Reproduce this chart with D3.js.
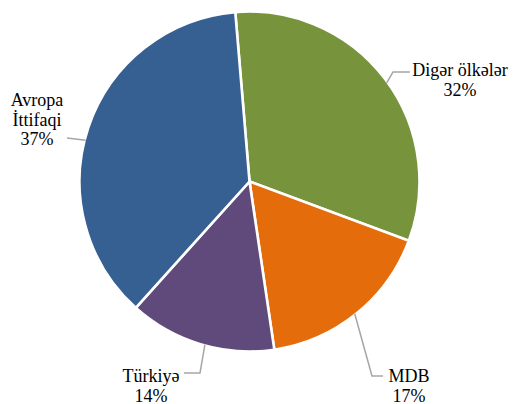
<!DOCTYPE html>
<html>
<head>
<meta charset="utf-8">
<script src="https://cdn.jsdelivr.net/npm/d3@7"></script>
<style>
  html, body { margin: 0; padding: 0; background: #fff; }
  svg { display: block; }
  text.lbl { font-family: "Liberation Serif", Tinos, "Times New Roman", "DejaVu Serif", serif; font-size: 18px; fill: #000; }
</style>
</head>
<body>
<svg id="chart" width="513" height="404"></svg>
<script>
// Export shares by destination (%)
const categories = ["Digər ölkələr", "MDB", "Türkiyə", "Avropa İttifaqi"];
const shares = [32, 17, 14, 37];
const labelLines = [["Digər ölkələr"], ["MDB"], ["Türkiyə"], ["Avropa", "İttifaqi"]];
const colors = ["#77933c", "#e46c0a", "#604a7b", "#376092"];

const cx = 249.5, cy = 181.5, R = 170;
const startDeg = -4.8;

const svg = d3.select("#chart");
const g = svg.append("g").attr("transform", `translate(${cx},${cy})`);

const data = categories.map((c, i) => ({ name: c, value: shares[i], lines: labelLines[i], color: colors[i] }));

const pie = d3.pie()
  .value(d => d.value)
  .sort(null)
  .startAngle(startDeg * Math.PI / 180)
  .endAngle((startDeg + 360) * Math.PI / 180);

const arc = d3.arc().innerRadius(0).outerRadius(R);
const arcs = pie(data);

g.selectAll("path.slice")
  .data(arcs)
  .enter().append("path")
  .attr("class", "slice")
  .attr("d", arc)
  .attr("fill", d => d.data.color)
  .attr("stroke", "#fff")
  .attr("stroke-width", 2.6)
  .attr("stroke-linejoin", "miter");

// Label placement: text anchor point, leader elbow/end points, and where the
// leader touches the slice edge (angle offset from the slice middle, degrees).
const labelLayout = [
  { x: 460, y: 76, touch: 1.5, path: [[393, 72], [410, 72]] },
  { x: 409, y: 382, touch: 0.5, path: [[372, 376], [383, 376]] },
  { x: 151, y: 382, touch: -1.5, path: [[200, 373], [184, 373]] },
  { x: 37, y: 106, touch: -4.5, path: [[67, 138]] }
];

const line = d3.line();
arcs.forEach((a, i) => {
  const L = labelLayout[i];
  const mid = (a.startAngle + a.endAngle) / 2 + L.touch * Math.PI / 180;
  const p0 = [cx + (R - 1) * Math.sin(mid), cy - (R - 1) * Math.cos(mid)];
  svg.append("path")
    .attr("d", line([p0, ...L.path]))
    .attr("fill", "none")
    .attr("stroke", "#a6a6a6")
    .attr("stroke-width", 1.5);

  const t = svg.append("text")
    .attr("class", "lbl")
    .attr("text-anchor", "middle")
    .attr("x", L.x)
    .attr("y", L.y);
  const rows = [...a.data.lines, `${a.data.value}%`];
  rows.forEach((r, k) => {
    t.append("tspan").attr("x", L.x).attr("dy", k === 0 ? 0 : 19.5).text(r);
  });
});
</script>
</body>
</html>
